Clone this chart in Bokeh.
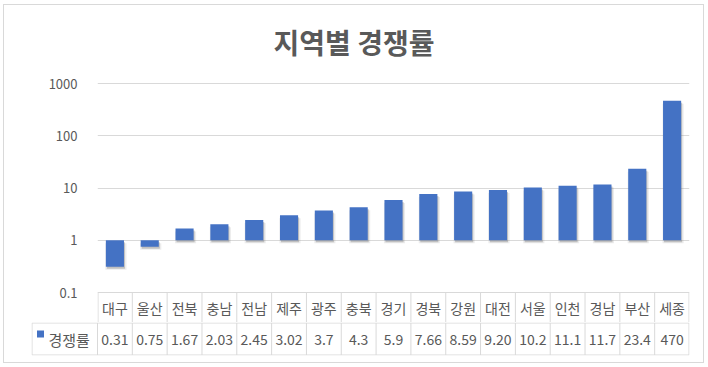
from bokeh.plotting import figure
from bokeh.models import FactorRange, Range1d, FixedTicker, NumeralTickFormatter, ColumnDataSource
from bokeh.layouts import column
from bokeh.embed import file_html
from bokeh.resources import INLINE
from bokeh.core.properties import value

# ---- data ----
categories = ["대구", "울산", "전북", "충남", "전남", "제주", "광주", "충북", "경기",
              "경북", "강원", "대전", "서울", "인천", "경남", "부산", "세종"]
rates = [0.31, 0.75, 1.67, 2.03, 2.45, 3.02, 3.7, 4.3, 5.9,
         7.66, 8.59, 9.20, 10.2, 11.1, 11.7, 23.4, 470]
rate_labels = ["0.31", "0.75", "1.67", "2.03", "2.45", "3.02", "3.7", "4.3", "5.9",
               "7.66", "8.59", "9.20", "10.2", "11.1", "11.7", "23.4", "470"]
y_ticks = [0.1, 1, 10, 100, 1000]
series_name = "경쟁률"
title_text = "지역별 경쟁률"

# ---- style ----
FONT = "Noto Sans CJK KR"
TXT = "#595959"
GRID = "#d9d9d9"
BLUE = "#4472C4"
W = 699
FRAME_L, FRAME_R = 93, 14
FRAME_W = W - FRAME_L - FRAME_R
N = len(categories)
COL = FRAME_W / N          # px per category
HALF = 0.5 / COL
BAR_W = 0.52
PX_DECADE = 52.25
H0 = 65                    # title strip
TOP_PAD = 9                # canvas px above frame in chart
ABOVE_1000 = 4             # frame px above the 1000 gridline
HEADER_H = 30              # category row
H1 = int(round(TOP_PAD + ABOVE_1000 + 4 * PX_DECADE + HEADER_H))
ROW_H = 33
H2 = 40

def log_shift(v, px):
    return v * 10 ** (px / PX_DECADE)

y_top = log_shift(1000, ABOVE_1000)
y_bot = log_shift(0.1, -(H1 - TOP_PAD - ABOVE_1000 - 4 * PX_DECADE))

# ---- title strip ----
tf = figure(width=W, height=H0, x_range=Range1d(0, 1), y_range=Range1d(0, H0),
            output_backend="svg", toolbar_location=None,
            x_axis_location=None, y_axis_location=None,
            min_border=0, frame_align=False)
tf.outline_line_color = None
tf.grid.visible = False
tf.text(x=[0.5], y=[H0 - 36], text=[title_text], text_align="center",
        text_baseline="middle", text_font=value(FONT), text_font_size="28px",
        text_font_style="bold", text_color=TXT)

# ---- chart ----
p = figure(width=W, height=H1, x_range=FactorRange(*categories),
           y_axis_type="log", y_range=Range1d(y_bot, y_top),
           output_backend="svg", toolbar_location=None,
           x_axis_location=None, frame_align=False,
           min_border_left=FRAME_L, min_border_right=FRAME_R,
           min_border_top=TOP_PAD, min_border_bottom=0)
p.outline_line_color = None
p.background_fill_color = "white"
p.border_fill_color = "white"

tick = FixedTicker(ticks=y_ticks)
p.yaxis.ticker = tick
p.ygrid.ticker = tick
p.yaxis.formatter = NumeralTickFormatter(format="0.[0]")
p.yaxis.axis_line_color = None
p.yaxis.major_tick_line_color = None
p.yaxis.minor_tick_line_color = None
p.yaxis.major_label_text_font = FONT
p.yaxis.major_label_text_font_size = "13px"
p.yaxis.major_label_text_color = TXT
p.yaxis.major_label_standoff = 14
p.ygrid.grid_line_color = GRID
p.ygrid.grid_line_width = 1
p.xgrid.visible = False

xs = [i + 0.5 for i in range(N)]
d2 = 10 ** (-2 / PX_DECADE)
d3 = 10 ** (-3 / PX_DECADE)
src = ColumnDataSource(dict(
    cat=categories, rate=rates,
    x_s=[x + 1 / COL for x in xs],
    top_s=[r * d2 for r in rates], bot_s=[d2 for _ in rates],
    top_b=[r * d3 for r in rates], bot_b=[d3 for _ in rates],
))
# soft drop shadow
p.vbar(x="x_s", top="top_b", bottom="bot_b", width=BAR_W + 3 / COL,
       fill_color="#808080", fill_alpha=0.15, line_color=None, source=src)
p.vbar(x="x_s", top="top_s", bottom="bot_s", width=BAR_W,
       fill_color="#707070", fill_alpha=0.35, line_color=None, source=src)
p.vbar(x="cat", top="rate", bottom=1, width=BAR_W, fill_color=BLUE,
       line_color=None, source=src)

# category header row of the data table (below the 0.1 line)
hdr_y = log_shift(0.1, -HEADER_H / 2)
p.text(x="cat", y=hdr_y, text="cat", text_align="center", text_baseline="middle",
       text_font=value(FONT), text_font_size="14px", text_color=TXT, source=src)
bx = [HALF] + [float(i) for i in range(1, N)] + [N - HALF]
p.segment(x0=bx, x1=bx, y0=[y_bot] * (N + 1), y1=[0.1] * (N + 1),
          line_color=GRID, line_width=1)

# ---- data table value row ----
LEG_W = 66
LEG_U = LEG_W / COL
t = figure(width=W, height=H2, x_range=Range1d(-LEG_U, N), y_range=Range1d(0, ROW_H),
           output_backend="svg", toolbar_location=None,
           x_axis_location=None, y_axis_location=None, frame_align=False,
           min_border_left=FRAME_L - LEG_W, min_border_right=FRAME_R,
           min_border_top=0, min_border_bottom=H2 - ROW_H)
t.outline_line_color = None
t.grid.visible = False
t.border_fill_color = "white"

hy = [ROW_H - 0.5, 0.5]
t.segment(x0=[-LEG_U + HALF] * 2, x1=[N - HALF] * 2, y0=hy, y1=hy,
          line_color=GRID, line_width=1)
vx = [-LEG_U + HALF] + [float(i) for i in range(N)] + [N - HALF]
t.segment(x0=vx, x1=vx, y0=[0.5] * len(vx), y1=[ROW_H - 0.5] * len(vx),
          line_color=GRID, line_width=1)

t.text(x=xs, y=[16] * N, text=rate_labels, text_align="center", text_baseline="middle",
       text_font=value(FONT), text_font_size="14px", text_color=TXT)
t.rect(x=[-LEG_U + 9 / COL], y=[21.5], width=7, height=7, width_units="screen",
       height_units="screen", fill_color=BLUE, line_color=None)
t.text(x=[-LEG_U + 17 / COL], y=[16.5], text=[series_name], text_align="left",
       text_baseline="middle", text_font=value(FONT), text_font_size="15px",
       text_color=TXT)

layout = column(tf, p, t, spacing=0, styles={"border": "1px solid #d9d9d9",
                                             "background-color": "white",
                                             "margin": "4px 0 0 3px"})
open("out.html", "w").write(file_html(layout, INLINE))
